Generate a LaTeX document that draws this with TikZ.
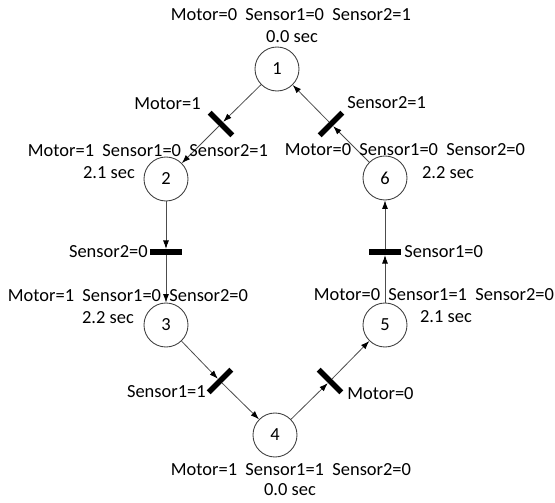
\documentclass[tikz,border=0pt]{standalone}
\usepackage{fontspec}
\setmainfont{Carlito}
\usetikzlibrary{arrows.meta}

\tikzset{
	place/.style = {circle, draw = black!75, line width = 0.5pt, minimum size = 0.88cm, inner sep = 0pt, font = \fontsize{10.5}{12}\selectfont},
	bar/.style = {rectangle, fill = black, minimum width = 0.64cm, minimum height = 0.11cm, inner sep = 0pt},
	arc/.style = {draw = black!70, line width = 0.45pt, -{Latex[length = 0.17cm, width = 0.12cm, color = black]}},
	txt/.style = {inner sep = 0pt, font = \fontsize{10.5}{12}\selectfont}
}

\begin{document}
\begin{tikzpicture}[x = 0.02cm, y = -0.02cm]
	\useasboundingbox (0,0) rectangle (555,503);

	% places
	\node[place] (p1) at (277,69) {1};
	\node[place] (p2) at (166,179) {2};
	\node[place] (p3) at (166,325) {3};
	\node[place] (p4) at (275,435) {4};
	\node[place] (p5) at (385,325) {5};
	\node[place] (p6) at (385,178) {6};

	% transitions
	\node[bar, rotate = -45] (t12) at (221,124) {};
	\node[bar] (t23) at (166,252) {};
	\node[bar, rotate = 45] (t34) at (220,381) {};
	\node[bar, rotate = -45] (t45) at (330,381) {};
	\node[bar] (t56) at (385,252) {};
	\node[bar, rotate = 45] (t61) at (331,124) {};

	% arcs
	\draw[arc] (p1) -- (t12);
	\draw[arc] (t12) -- (p2);
	\draw[arc] (p2) -- (t23);
	\draw[arc] (t23) -- (p3);
	\draw[arc] (p3) -- (t34);
	\draw[arc] (t34) -- (p4);
	\draw[arc] (p4) -- (t45);
	\draw[arc] (t45) -- (p5);
	\draw[arc] (p5) -- (t56);
	\draw[arc] (t56) -- (p6);
	\draw[arc] (p6) -- (t61);
	\draw[arc] (t61) -- (p1);

	% guards
	\node[txt, anchor = east] (g12) at (201,104) {Motor=1};
	\node[txt, anchor = east] (g23) at (148,252) {Sensor2=0};
	\node[txt, anchor = east] (g34) at (206,392) {Sensor1=1};
	\node[txt, anchor = west] (g45) at (347,394) {Motor=0};
	\node[txt, anchor = west] (g56) at (404,252) {Sensor1=0};
	\node[txt, anchor = west] (g61) at (347,103) {Sensor2=1};

	% markings
	\node[txt] (m1) at (291,15) {Motor=0\ \ Sensor1=0\ \ Sensor2=1};
	\node[txt] (s1) at (292,37) {0.0 sec};
	\node[txt] (m2) at (148,151) {Motor=1\ \ Sensor1=0\ \ Sensor2=1};
	\node[txt] (s2) at (109,173) {2.1 sec};
	\node[txt] (m3) at (128,296) {Motor=1\ \ Sensor1=0\ \ Sensor2=0};
	\node[txt] (s3) at (108,318) {2.2 sec};
	\node[txt] (m4) at (291,470) {Motor=1\ \ Sensor1=1\ \ Sensor2=0};
	\node[txt] (s4) at (290,490) {0.0 sec};
	\node[txt] (m5) at (434,295) {Motor=0\ \ Sensor1=1\ \ Sensor2=0};
	\node[txt] (s5) at (446,317) {2.1 sec};
	\node[txt] (m6) at (405,150) {Motor=0\ \ Sensor1=0\ \ Sensor2=0};
	\node[txt] (s6) at (448,173) {2.2 sec};
\end{tikzpicture}
\end{document}
